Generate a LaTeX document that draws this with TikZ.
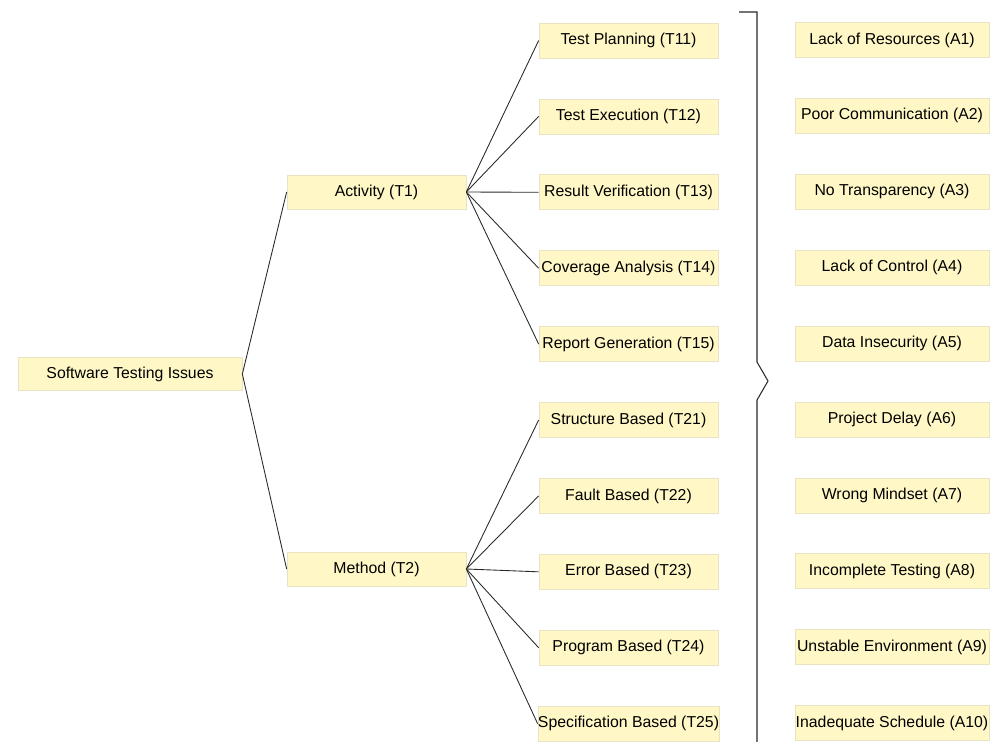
\documentclass[tikz,border=0pt]{standalone}
\usepackage{fontspec}
\setmainfont{Liberation Sans}
\usepackage{tikz}
\usetikzlibrary{positioning, calc}
\definecolor{boxfill}{HTML}{FFF8C6}
\definecolor{boxedge}{HTML}{E8E3C2}
\definecolor{linegray}{HTML}{2A2A2A}

\begin{document}
\begin{tikzpicture}[
  node distance=0.804cm,
  rootbox/.style={rectangle, draw=boxedge, line width=0.4pt, fill=boxfill, font=\fontsize{9}{11}\selectfont, minimum width=4.48cm, minimum height=0.66cm, inner sep=0pt},
  midbox/.style={rectangle, draw=boxedge, line width=0.4pt, fill=boxfill, font=\fontsize{9}{11}\selectfont, minimum width=3.58cm, minimum height=0.68cm, inner sep=0pt},
  issue/.style={rectangle, draw=boxedge, line width=0.4pt, fill=boxfill, font=\fontsize{9}{11}\selectfont, minimum width=3.58cm, minimum height=0.7cm, inner sep=0pt},
  cause/.style={rectangle, draw=boxedge, line width=0.4pt, fill=boxfill, font=\fontsize{9}{11}\selectfont, minimum width=3.88cm, minimum height=0.7cm, inner sep=0pt},
  link/.style={draw=linegray, line width=0.5pt}
]
  \useasboundingbox (0,0) rectangle (20.06,-14.84);

  \node[rootbox] (root) at (2.6,-7.48) {Software Testing Issues};

  \node[midbox] (act) at (7.53,-3.84) {Activity (T1)};
  \node[midbox] (meth) at (7.53,-11.38) {Method (T2)};

  % activity issues
  \node[issue] (t11) at (12.57,-0.81) {Test Planning (T11)};
  \node[issue, below=of t11] (t12) {Test Execution (T12)};
  \node[issue, below=of t12] (t13) {Result Verification (T13)};
  \node[issue, below=of t13] (t14) {Coverage Analysis (T14)};
  \node[issue, below=of t14] (t15) {Report Generation (T15)};

  % method issues
  \node[issue, below=of t15] (t21) {Structure Based (T21)};
  \node[issue, below=of t21] (t22) {Fault Based (T22)};
  \node[issue, below=of t22] (t23) {Error Based (T23)};
  \node[issue, below=of t23] (t24) {Program Based (T24)};
  \node[issue, below=of t24] (t25) {Specification Based (T25)};

  % causes
  \node[cause] (a1) at (17.84,-0.8) {Lack of Resources (A1)};
  \node[cause, below=of a1] (a2) {Poor Communication (A2)};
  \node[cause, below=of a2] (a3) {No Transparency (A3)};
  \node[cause, below=of a3] (a4) {Lack of Control (A4)};
  \node[cause, below=of a4] (a5) {Data Insecurity (A5)};
  \node[cause, below=of a5] (a6) {Project Delay (A6)};
  \node[cause, below=of a6] (a7) {Wrong Mindset (A7)};
  \node[cause, below=of a7] (a8) {Incomplete Testing (A8)};
  \node[cause, below=of a8] (a9) {Unstable Environment (A9)};
  \node[cause, below=of a9] (a10) {Inadequate Schedule (A10)};

  \draw[link] (root.east) -- (act.west);
  \draw[link] (root.east) -- (meth.west);
  \draw[link] (act.east) -- (t11.west);
  \draw[link] (act.east) -- (t12.west);
  \draw[link] (act.east) -- (t13.west);
  \draw[link] (act.east) -- (t14.west);
  \draw[link] (act.east) -- (t15.west);
  \draw[link] (meth.east) -- (t21.west);
  \draw[link] (meth.east) -- (t22.west);
  \draw[link] (meth.east) -- (t23.west);
  \draw[link] (meth.east) -- (t24.west);
  \draw[link] (meth.east) -- (t25.west);

  % brace between the columns
  \draw[link, line width=0.6pt] (14.78,-0.24) -- (15.14,-0.24) -- (15.14,-7.24) -- (15.36,-7.62)
    -- (15.14,-8.0) -- (15.14,-14.84);
\end{tikzpicture}
\end{document}
